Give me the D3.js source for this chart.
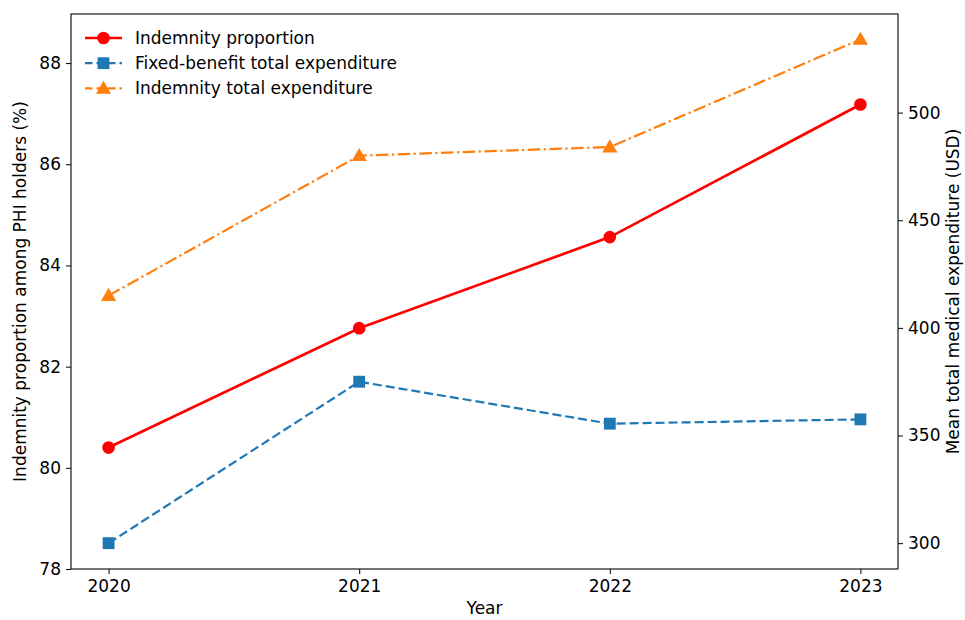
<!DOCTYPE html>
<html>
<head>
<meta charset="utf-8">
<script src="https://cdn.jsdelivr.net/npm/d3@7"></script>
<style>
  body { margin: 0; background: #fff; }
  text { font-family: "DejaVu Sans", sans-serif; }
</style>
</head>
<body>
<div id="chart"></div>
<script>
const years = [2020, 2021, 2022, 2023];
const indemnityProportion = [80.4, 82.76, 84.56, 87.18];
const fixedBenefitExpenditure = [300, 375, 355.5, 357.5];
const indemnityExpenditure = [415, 480, 484, 534];
const leftTicks = [78, 80, 82, 84, 86, 88];
const rightTicks = [300, 350, 400, 450, 500];

const width = 965, height = 620;
const margin = { top: 14, right: 67, bottom: 51, left: 71 };
const iw = width - margin.left - margin.right;
const ih = height - margin.top - margin.bottom;

const svg = d3.select("#chart").append("svg")
  .attr("width", width).attr("height", height);

const g = svg.append("g").attr("transform", `translate(${margin.left},${margin.top})`);

const x = d3.scaleLinear().domain([2019.85, 2023.15]).range([0, iw]);
const yL = d3.scaleLinear().domain([78, 88.97]).range([ih, 0]);
const yR = d3.scaleLinear().domain([288, 545.8]).range([ih, 0]);

// axes
const fs = "17px";
const xAxis = g.append("g").attr("transform", `translate(0,${ih})`)
  .call(d3.axisBottom(x).tickValues(years).tickFormat(d3.format("d")).tickSize(5).tickPadding(6));
const lAxis = g.append("g")
  .call(d3.axisLeft(yL).tickValues(leftTicks).tickSize(5).tickPadding(5));
const rAxis = g.append("g").attr("transform", `translate(${iw},0)`)
  .call(d3.axisRight(yR).tickValues(rightTicks).tickSize(5).tickPadding(5));
[xAxis, lAxis, rAxis].forEach(a => {
  a.selectAll("text").style("font-size", fs).attr("fill", "#000");
  a.selectAll("line").attr("stroke", "#000").attr("stroke-width", 1);
  a.select(".domain").remove();
});

g.append("rect").attr("width", iw).attr("height", ih)
  .attr("fill", "none").attr("stroke", "#000").attr("stroke-width", 1.1);

// labels
svg.append("text").attr("x", margin.left + x(2021.5)).attr("y", 614)
  .attr("text-anchor", "middle").style("font-size", fs).text("Year");
svg.append("text")
  .attr("transform", `translate(26,${margin.top + ih / 2}) rotate(-90)`)
  .attr("text-anchor", "middle").style("font-size", fs)
  .text("Indemnity proportion among PHI holders (%)");
svg.append("text")
  .attr("transform", `translate(964,${margin.top + ih / 2}) rotate(-90)`)
  .attr("dy", "-0.3em")
  .attr("text-anchor", "middle").style("font-size", fs)
  .text("Mean total medical expenditure (USD)");

// series
const series = [
  { name: "Indemnity proportion", values: indemnityProportion, y: yL, color: "#ff0000", dash: null, width: 2.7, marker: "circle" },
  { name: "Fixed-benefit total expenditure", values: fixedBenefitExpenditure, y: yR, color: "#1f77b4", dash: "9,4", width: 2.2, marker: "square" },
  { name: "Indemnity total expenditure", values: indemnityExpenditure, y: yR, color: "#ff7f0e", dash: "12.5,3.5,2.2,3.5", width: 2.2, marker: "triangle" }
];

const symbols = { circle: d3.symbolCircle, square: d3.symbolSquare, triangle: d3.symbolTriangle };
const sizes = { circle: 125, square: 140, triangle: 100 };

series.forEach(s => {
  const line = d3.line().x((d, i) => x(years[i])).y(d => s.y(d));
  g.append("path").datum(s.values)
    .attr("d", line).attr("fill", "none")
    .attr("stroke", s.color).attr("stroke-width", s.width)
    .attr("stroke-dasharray", s.dash);
  g.selectAll(null).data(s.values).join("path")
    .attr("transform", (d, i) => `translate(${x(years[i])},${s.y(d) + (s.marker === "triangle" ? 1 : 0)})`)
    .attr("d", d3.symbol().type(symbols[s.marker]).size(sizes[s.marker]))
    .attr("fill", s.color);
});

// legend
const legend = g.append("g").attr("transform", "translate(14,24)");
series.forEach((s, i) => {
  const row = legend.append("g").attr("transform", `translate(0,${i * 25.2})`);
  row.append("line").attr("x1", 0).attr("x2", 37)
    .attr("stroke", s.color).attr("stroke-width", s.width)
    .attr("stroke-dasharray", s.dash ? "7.5,4" : null);
  row.append("path")
    .attr("transform", `translate(18.5,${s.marker === "triangle" ? 1 : 0})`)
    .attr("d", d3.symbol().type(symbols[s.marker]).size(sizes[s.marker]))
    .attr("fill", s.color);
  row.append("text").attr("x", 50).attr("dy", "0.35em")
    .style("font-size", fs).text(s.name);
});
</script>
</body>
</html>
